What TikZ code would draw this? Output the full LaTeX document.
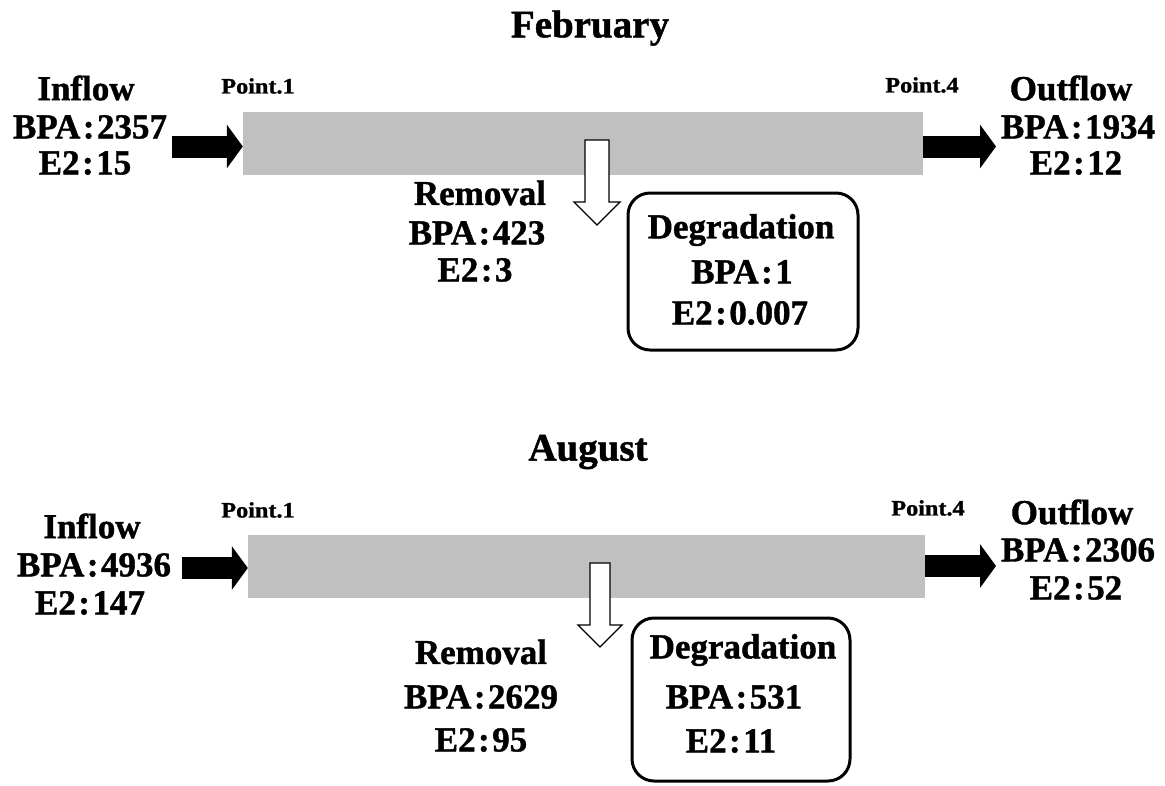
\documentclass[tikz,border=0pt]{standalone}
\usepackage{fontspec}
\setmainfont{Liberation Serif}[BoldFeatures={FakeBold=1.2}]
\usetikzlibrary{arrows.meta}
\newcommand{\cl}{\kern2.5pt:\kern2.5pt}
\definecolor{barGray}{HTML}{C0C0C0}
\tikzset{
  lbl/.style={font=\bfseries\fontsize{35}{35}\selectfont, inner sep=0pt, anchor=center},
  ttl/.style={font=\bfseries\fontsize{39}{39}\selectfont, inner sep=0pt},
  pt/.style={font=\bfseries\fontsize{22}{22}\selectfont, inner sep=0pt, xscale=1.1},
  bar/.style={fill=barGray, draw=none, inner sep=0pt},
  flow/.style={line width=22pt, -{Triangle[length=16pt,width=43pt]}},
  hollow/.style={draw=black, fill=white, line width=1.3pt, line join=miter},
  degbox/.style={draw=black, line width=3pt, rounded corners=22pt, inner sep=0pt}
}
\begin{document}
\begin{tikzpicture}[x=1pt,y=-1pt]
\useasboundingbox (0,0) rectangle (1165,785);

% ---------- February ----------
\node[ttl] (tF) at (590,28) {February};
\node[bar, minimum width=680pt, minimum height=63pt] (barF) at (583,143.5) {};
\node[lbl] (inF)  at (86,88)  {Inflow};
\node[lbl] (inFb) at (90,127) {BPA\cl 2357};
\node[lbl] (inFe) at (85,163) {E2\cl 15};
\node[pt]  (p1F)  at (258,86) {Point.1};
\node[pt]  (p4F)  at (922,85) {Point.4};
\node[lbl] (outF)  at (1071,88)  {Outflow};
\node[lbl] (outFb) at (1078,127) {BPA\cl 1934};
\node[lbl] (outFe) at (1076,163) {E2\cl 12};
\coordinate (aFin) at (172,146.5);
\draw[flow] (aFin) -- (barF.west |- aFin);
\coordinate (aFout) at (996,146.5);
\draw[flow] (barF.east |- aFout) -- (aFout);
% removal arrow, hollow, pointing down out of the channel
\coordinate (rF) at (597,140);
\draw[hollow] (rF) ++(-12,0) -- ++(24,0) -- ++(0,62) -- ++(11,0) -- ++(-23,23) -- ++(-23,-23) -- ++(11,0) -- cycle;
\node[lbl] (remF)  at (480,193) {Removal};
\node[lbl] (remFb) at (477,233) {BPA\cl 423};
\node[lbl] (remFe) at (475,270) {E2\cl 3};
\node[degbox, minimum width=230pt, minimum height=157pt] (degF) at (743,271.5) {};
\node[lbl] (degFt) at (741,230) {Degradation};
\node[lbl] (degFb) at (742,272) {BPA\cl 1};
\node[lbl] (degFe) at (740,313) {E2\cl 0.007};

% ---------- August ----------
\node[ttl] (tA) at (588,452) {August};
\node[bar, minimum width=677pt, minimum height=63pt] (barA) at (586.5,566.5) {};
\node[lbl] (inA)  at (92,526) {Inflow};
\node[lbl] (inAb) at (94,565) {BPA\cl 4936};
\node[lbl] (inAe) at (90,603) {E2\cl 147};
\node[pt]  (p1A)  at (258,510) {Point.1};
\node[pt]  (p4A)  at (928,508) {Point.4};
\node[lbl] (outA)  at (1072,512) {Outflow};
\node[lbl] (outAb) at (1078,550) {BPA\cl 2306};
\node[lbl] (outAe) at (1076,588) {E2\cl 52};
\coordinate (aAin) at (182,568);
\draw[flow] (aAin) -- (barA.west |- aAin);
\coordinate (aAout) at (996,566);
\draw[flow] (barA.east |- aAout) -- (aAout);
\coordinate (rA) at (600,563);
\draw[hollow] (rA) ++(-10,0) -- ++(20,0) -- ++(0,62) -- ++(12,0) -- ++(-22,22) -- ++(-22,-22) -- ++(12,0) -- cycle;
\node[lbl] (remA)  at (481,652) {Removal};
\node[lbl] (remAb) at (481,697) {BPA\cl 2629};
\node[lbl] (remAe) at (481,740) {E2\cl 95};
\node[degbox, minimum width=218pt, minimum height=163pt] (degA) at (741,699.5) {};
\node[lbl] (degAt) at (743,650) {Degradation};
\node[lbl] (degAb) at (734,697) {BPA\cl 531};
\node[lbl] (degAe) at (731,741) {E2\cl 11};
\end{tikzpicture}
\end{document}
